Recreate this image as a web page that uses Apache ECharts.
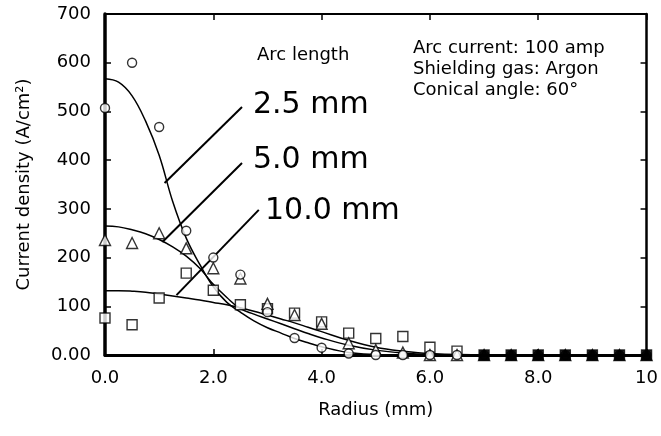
<!DOCTYPE html>
<html>
<head>
<meta charset="utf-8">
<script src="https://cdn.jsdelivr.net/npm/echarts@6/dist/echarts.min.js"></script>
<style>
  html, body { margin: 0; padding: 0; background: #fff; }
  #chart { width: 661px; height: 436px; }
</style>
</head>
<body>
<div id="chart"></div>
<script>
// measured points, radius in mm
const radius = [0, 0.5, 1, 1.5, 2, 2.5, 3, 3.5, 4, 4.5, 5, 5.5, 6, 6.5, 7, 7.5, 8, 8.5, 9, 9.5, 10];
const arc25 = [507, 600, 468, 255, 200, 165, 88, 35, 15, 3, 0, 0, 0, 0, 0, 0, 0, 0, 0, 0, 0];
const arc50 = [236, 230, 250, 219, 178, 157, 105, 82, 64, 24, 10, 5, 0, 0, 0, 0, 0, 0, 0, 0, 0];
const arc100 = [76, 62, 117, 168, 133, 103, 95, 86, 68, 45, 34, 38, 16, 8, 0, 0, 0, 0, 0, 0, 0];

// fitted curves
const curveR = [0, 0.25, 0.5, 0.75, 1, 1.25, 1.5, 1.75, 2, 2.25, 2.5, 2.75, 3, 3.25, 3.5, 3.75, 4, 4.5, 5, 5.5, 6, 7, 8, 9, 10];
const fit25 = [567, 560, 532, 480, 410, 315, 240, 186, 140, 108, 88, 70, 56, 45, 34, 25, 17, 5, 1, 0, 0, 0, 0, 0, 0];
const fit50 = [265, 263, 257, 249, 237, 222, 203, 178, 145, 118, 95, 84, 74, 64, 54, 44, 35, 20, 10, 4, 1, 0, 0, 0, 0];
const fit100 = [132, 132, 131, 129, 125, 121, 117, 113, 108, 103, 97, 90, 82, 74, 66, 57, 48, 30, 16, 8, 3, 0, 0, 0, 0];

// leader lines from the labels to the curves
const leader25 = [[2.53, 509], [1.10, 353]];
const leader50 = [[2.53, 394], [1.06, 232]];
const leader100 = [[2.84, 298], [1.32, 123]];

const xTicks = { min: 0, max: 10, interval: 2 };
const yTicks = { min: 0, max: 700, interval: 100 };

const font = 'DejaVu Sans';
const pair = (xs, ys) => xs.map((x, i) => [x, ys[i]]);

function markerSeries(name, symbol, size, values) {
  return {
    name,
    type: 'scatter',
    symbol,
    symbolSize: size,
    z: 5,
    itemStyle: { color: '#fff', borderColor: '#000', borderWidth: 1.4 },
    data: pair(radius, values).map(p => (p[1] === 0 && p[0] >= 6.75)
      ? { value: p, itemStyle: { color: '#000' } }
      : p)
  };
}

function curveSeries(name, values) {
  return {
    name,
    type: 'line',
    smooth: 0.4,
    showSymbol: false,
    z: 3,
    lineStyle: { color: '#000', width: 1.5 },
    data: pair(curveR, values)
  };
}

function leaderSeries(pts) {
  return {
    type: 'line',
    showSymbol: false,
    z: 4,
    lineStyle: { color: '#000', width: 2 },
    data: pts
  };
}

// y is the vertical middle of the text line
function text(str, left, y, size) {
  return {
    type: 'text',
    left,
    top: y - size / 2,
    style: { text: str, font: `${size}px "${font}"`, fill: '#000' }
  };
}

const chart = echarts.init(document.getElementById('chart'), null, { renderer: 'canvas' });

chart.setOption({
  backgroundColor: '#fff',
  animation: false,
  grid: { left: 105, right: 11, top: 14, bottom: 81 },
  xAxis: [
    {
      type: 'value', ...xTicks,
      name: 'Radius (mm)', nameLocation: 'middle', nameGap: 46,
      nameTextStyle: { fontFamily: font, fontSize: 18, color: '#000' },
      axisLine: { onZero: false, lineStyle: { color: '#000', width: 3 } },
      axisTick: { inside: true, length: 6, lineStyle: { color: '#000', width: 1.5 } },
      axisLabel: { margin: 14, fontFamily: font, fontSize: 18, color: '#000',
        formatter: v => (v === 10 ? '10' : v.toFixed(1)) },
      splitLine: { show: false }
    },
    {
      type: 'value', ...xTicks, position: 'top',
      axisLine: { onZero: false, lineStyle: { color: '#000', width: 2 } },
      axisTick: { inside: true, length: 6, lineStyle: { color: '#000', width: 1.5 } },
      axisLabel: { show: false },
      splitLine: { show: false }
    }
  ],
  yAxis: [
    {
      type: 'value', ...yTicks,
      name: 'Current density (A/cm²)', nameLocation: 'middle', nameGap: 72,
      nameTextStyle: { fontFamily: font, fontSize: 18, color: '#000' },
      axisLine: { onZero: false, lineStyle: { color: '#000', width: 3.5 } },
      axisTick: { inside: true, length: 6, lineStyle: { color: '#000', width: 1.5 } },
      axisLabel: { margin: 14, fontFamily: font, fontSize: 18, color: '#000',
        formatter: v => (v === 0 ? '0.00' : String(v)) },
      splitLine: { show: false }
    },
    {
      type: 'value', ...yTicks, position: 'right',
      axisLine: { onZero: false, lineStyle: { color: '#000', width: 2.5 } },
      axisTick: { inside: true, length: 6, lineStyle: { color: '#000', width: 1.5 } },
      axisLabel: { show: false },
      splitLine: { show: false }
    }
  ],
  series: [
    curveSeries('fit 2.5', fit25),
    curveSeries('fit 5.0', fit50),
    curveSeries('fit 10.0', fit100),
    leaderSeries(leader25),
    leaderSeries(leader50),
    leaderSeries(leader100),
    markerSeries('10.0 mm', 'rect', 10, arc100),
    markerSeries('5.0 mm', 'triangle', 11, arc50),
    markerSeries('2.5 mm', 'circle', 9, arc25)
  ],
  graphic: [
    text('Arc length', 257, 55, 18),
    text('2.5 mm', 253, 105, 30),
    text('5.0 mm', 253, 160, 30),
    text('10.0 mm', 265, 211, 30),
    text('Arc current: 100 amp', 413, 48, 18),
    text('Shielding gas: Argon', 413, 69, 18),
    text('Conical angle: 60°', 413, 90, 18)
  ]
});
</script>
</body>
</html>
